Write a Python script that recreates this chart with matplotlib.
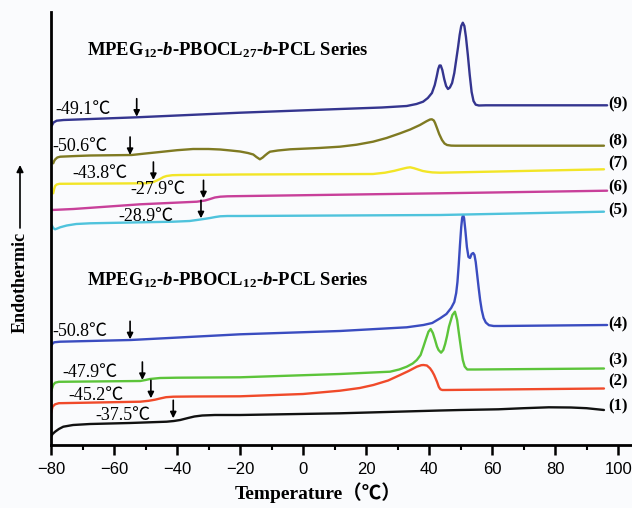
import matplotlib
matplotlib.use("Agg")
import matplotlib.pyplot as plt
from matplotlib.ticker import MultipleLocator

plt.rcParams['mathtext.fontset'] = 'custom'
plt.rcParams['mathtext.rm'] = 'Liberation Serif:bold'
plt.rcParams['mathtext.it'] = 'Liberation Serif:italic:bold'
plt.rcParams['mathtext.bf'] = 'Liberation Serif:bold'

SERIF = ['Liberation Serif', 'Noto Sans CJK SC']

# DSC traces, temperature (C) vs heat flow (a.u., stacked)
t1 = [-80, -79.5, -78.7, -77.5, -76.1, -73, -67.6, -55, -43.3, -41, -39.0, -36.5, -34.5,
      -32, -28, -20, 11.7, 43.5, 50, 62, 70, 78, 85, 90, 95.5]
h1 = [8.3, 11, 13.3, 16, 18.3, 20, 21, 22, 23.3, 24, 25, 27, 28.5,
      29.5, 30, 30, 31.7, 34.5, 35, 35.7, 36.8, 37.7, 37.5, 36.8, 35]

t2 = [-80, -79.5, -78.7, -77.5, -51.7, -49, -47, -45.4, -43.5, -41.2, -35, -20, 0, 11.7,
      18, 22.3, 27, 30.8, 33.5, 36.1, 37.5, 38.2, 39.3, 40.3, 41.0, 41.6, 42.5, 43.1,
      43.6, 44.2, 45.1, 95.5]
h2 = [31.7, 38.3, 40.7, 41.8, 43.3, 44.2, 45.3, 46.5, 47.8, 48.3, 48.5, 48.7, 51, 54.3,
      57, 60, 64.5, 70, 74, 78.3, 79.8, 80, 79.5, 76.7, 73.5, 70, 63.3, 58,
      55.7, 55, 55, 56.5]

t3 = [-80, -79.3, -78.7, -77.5, -51.7, -50, -48.6, -45.4, -40, -20, 11.7, 22, 27.6, 30.5,
      32.9, 34.8, 36.1, 37.3, 38.2, 39.0, 39.8, 40.5, 41.2, 41.9, 42.5, 43.0, 43.8, 44.5,
      45.1, 45.7, 46.3, 47.4, 48.2, 48.9, 49.4, 50.2, 50.7, 51.3, 52.1, 54.6, 95.5]
h3 = [53.3, 60, 62.3, 63.2, 64, 65, 66, 67, 67.3, 67.7, 71, 72.5, 73.3, 75.5,
      78.3, 81.5, 85, 90, 98.3, 106, 113.3, 116, 112, 105, 98.5, 95, 92.3, 95,
      101, 109, 118.3, 130, 133.3, 125, 113, 95, 85, 78.5, 75.5, 75.5, 76.5]

t4 = [-80, -79.6, -79.0, -77.1, -54.7, -20, 11.7, 32.9, 38.2, 41.0, 43.5, 45.5, 47.0, 48.0,
      48.6, 49.0, 49.4, 49.8, 50.2, 50.5, 50.8, 51.1, 51.5, 52.0, 52.5, 53.0, 53.5, 54.0,
      54.4, 54.8, 55.2, 55.7, 56.2, 56.7, 57.3, 58.0, 59.0, 60.5, 62.5, 96.5]
h4 = [98.3, 101, 102.7, 103.3, 105, 110.7, 114, 117.7, 120, 122, 126.7, 131, 137, 143,
      152, 163, 180, 200, 218, 227, 230, 227, 215, 198, 188, 187, 191, 192,
      190, 183, 172, 158, 145, 135, 127, 122.5, 119.8, 119, 119, 120]

t5 = [-79.8, -79.3, -78.7, -78, -77.1, -75, -72, -67.6, -41.2, -36, -33.7, -31.5, -29.5,
      -27.8, -26.3, -24, -20, 43.5, 95.5]
h5 = [220, 217, 215.7, 216.5, 217.7, 219.5, 221, 221.7, 223.3, 224, 225, 226, 227,
      228, 228.7, 229, 229, 230, 233.3]

t6 = [-79.8, -72.9, -51.7, -33.7, -31.1, -29.5, -28, -26.3, -24, -20, 43.5, 96.5]
h6 = [235, 236, 240.7, 243.3, 244.5, 246, 247.5, 248.3, 248.7, 248.9, 251.7, 254.3]

t7 = [-79.3, -79.0, -78.7, -78.2, -77.3, -49.6, -48.5, -47.5, -46.4, -45.4, -44.3, -43.3,
      -41.5, -39, -20, 22.2, 26, 29, 31.5, 33.0, 34.0, 35.2, 36.5, 38, 39.3, 41, 43.5, 95.5]
h7 = [251.7, 256, 259, 260.5, 261.2, 261.7, 262.3, 263, 264.5, 266, 268, 269,
      269.8, 270, 270.5, 271, 272.3, 274.2, 276.2, 277.3, 277.7, 276.8, 275.5, 274, 273.3,
      272.6, 272.3, 275.7]

t8 = [-79.3, -79.0, -78.7, -78, -77.1, -72, -67.6, -54.4, -50, -45.4, -40, -34.9, -30,
      -26.3, -23, -20, -17.5, -15.8, -14.8, -13.7, -12.8, -12.1, -11.2, -10.5, -8, -4.1,
      5, 11.7, 17, 22.2, 26.5, 30.8, 34, 37.1, 39.2, 40.3, 40.9, 41.5, 41.9, 42.5, 43.2,
      44.1, 44.9, 45.7, 47, 48.3, 95.5]
h8 = [281.7, 284, 285.5, 287.5, 288.3, 289, 289.5, 290, 291.5, 293, 294.8, 296, 296,
      295.5, 294.5, 293.5, 292, 290.5, 288, 285.7, 287.5, 289.5, 291.8, 293.3, 294.5, 295.7,
      297, 298.3, 300.3, 303.3, 307, 311.7, 315.5, 320, 323.8, 325.5, 325.7, 324.5, 322, 317,
      311, 305, 301.5, 300, 299.4, 299.3, 299.3]

t9 = [-79.8, -79.2, -78.2, -76, -52.8, -20, 11.7, 25, 32.9, 36, 38.1, 39.6, 40.9, 41.8,
      42.4, 42.9, 43.3, 43.7, 44.2, 44.8, 45.4, 46.0, 46.6, 47.3, 48.0, 48.6, 49.2, 49.7,
      50.2, 50.7, 51.2, 51.7, 52.3, 52.9, 53.5, 54.1, 54.8, 55.8, 58, 96.5]
h9 = [319, 322.5, 324.3, 325, 327.7, 332.3, 336, 337.5, 339, 341, 343.3, 347, 352, 360,
      368.3, 376, 379.5, 379.5, 375, 366, 359, 356, 357.5, 362, 372, 385, 398, 410,
      419, 422.3, 419, 408, 390, 370, 353, 344, 340.3, 339.5, 339.7, 339.7]

series_t = [t1, t2, t3, t4, t5, t6, t7, t8, t9]
series_h = [h1, h2, h3, h4, h5, h6, h7, h8, h9]
colors = ['#111111', '#f04a2a', '#5cc43a', '#3a4cc0', '#4fc3dc',
          '#c8409a', '#f2e527', '#7f7a22', '#34358f']
curve_labels = ['(1)', '(2)', '(3)', '(4)', '(5)', '(6)', '(7)', '(8)', '(9)']
label_h = [38.3, 63.3, 85, 121, 235, 257.7, 281.7, 303.3, 340.7]

# glass transition marks: text, arrow temperature, arrow tip, text anchor
tg_text = ['-37.5℃', '-45.2℃', '-47.9℃', '-50.8℃', '-28.9℃',
           '-27.9℃', '-43.8℃', '-50.6℃', '-49.1℃']
tg_arrow_t = [-41.2, -48.3, -51.0, -54.9, -32.4, -31.6, -47.5, -54.9, -52.8]
tg_arrow_h = [26.7, 46.7, 65, 105.7, 226.7, 246.7, 265, 290, 328.3]
tg_text_t = [-66.0, -74.6, -76.5, -79.7, -58.7, -54.9, -73.3, -79.7, -78.7]
tg_text_h = [30, 50, 72.3, 113.3, 228.3, 255, 271.7, 298.3, 335]

xticks = [-80, -60, -40, -20, 0, 20, 40, 60, 80, 100]

fig = plt.figure(figsize=(6.32, 5.08), dpi=100)
fig.patch.set_facecolor('#fafbfd')
ax = fig.add_axes([51 / 632, 63 / 508, 581 / 632, 433 / 508])
ax.set_facecolor('#fafbfd')

for t, h, c in zip(series_t, series_h, colors):
    ax.plot(t, h, color=c, lw=1.7, solid_capstyle='round', solid_joinstyle='round')

for lab, y in zip(curve_labels, label_h):
    ax.text(96.8, y, lab, family=SERIF, fontweight='bold', fontsize=12,
            ha='left', va='center')

for s, at, ah, tt, th in zip(tg_text, tg_arrow_t, tg_arrow_h, tg_text_t, tg_text_h):
    ax.text(tt, th, s, family=SERIF, fontsize=13, ha='left', va='center')
    ax.annotate('', xy=(at, ah), xytext=(at, ah + 18),
                arrowprops=dict(arrowstyle='-|>', color='black', lw=1.2,
                                mutation_scale=9, shrinkA=0, shrinkB=0))

ax.text(-68.5, 395, r'MPEG$_{12}$-$\it{b}$-PBOCL$_{27}$-$\it{b}$-PCL Series',
        family=SERIF, fontweight='bold', fontsize=13.4, ha='left', va='center')
ax.text(-68.5, 165, r'MPEG$_{12}$-$\it{b}$-PBOCL$_{12}$-$\it{b}$-PCL Series',
        family=SERIF, fontweight='bold', fontsize=13.4, ha='left', va='center')

ax.set_xlim(-80, 104.4)
ax.set_ylim(0, 433)
ax.set_xticks(xticks)
ax.xaxis.set_minor_locator(MultipleLocator(10))
ax.set_yticks([])
for side in ['top', 'right']:
    ax.spines[side].set_visible(False)
ax.spines['left'].set_linewidth(2)
ax.spines['bottom'].set_linewidth(2)
ax.tick_params(axis='x', which='major', direction='out', length=7, width=1.8,
               labelsize=12, pad=5)
ax.tick_params(axis='x', which='minor', direction='out', length=3.5, width=1.5)
for lbl in ax.get_xticklabels():
    lbl.set_family('Liberation Sans')

ax.set_xlabel('Temperature（℃）', family=SERIF, fontweight='bold', fontsize=14,
              labelpad=6)
ax.xaxis.set_label_coords(0.46, -0.085)

fig.text(20 / 632, 1 - 282 / 508, 'Endothermic', family=SERIF, fontweight='bold',
         fontsize=13, rotation=90, ha='center', va='center')
ax.annotate('', xy=(20 / 632, 1 - 165 / 508), xytext=(20 / 632, 1 - 228 / 508),
            xycoords='figure fraction', textcoords='figure fraction',
            arrowprops=dict(arrowstyle='-|>', color='black', lw=1.2,
                            mutation_scale=10, shrinkA=0, shrinkB=0))

fig.savefig('out.png', dpi=100, facecolor=fig.get_facecolor())
